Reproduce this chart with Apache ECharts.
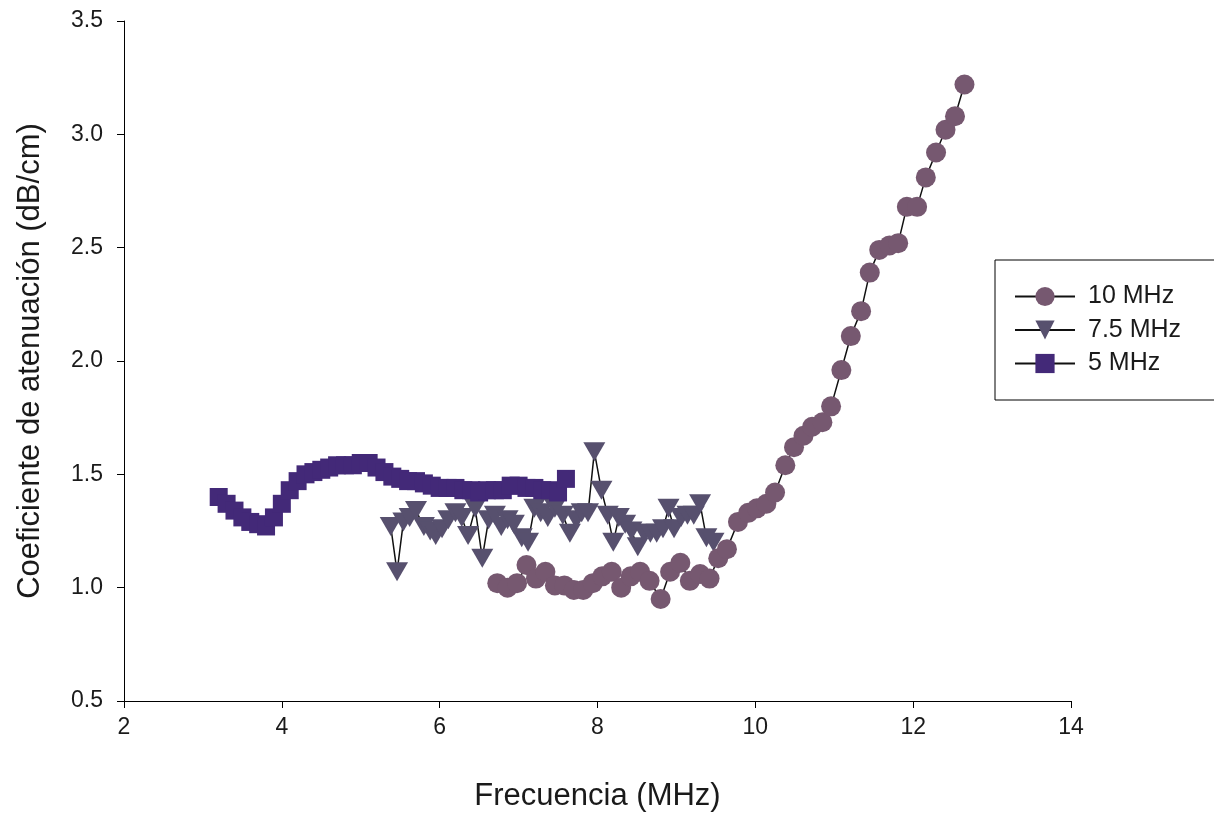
<!DOCTYPE html>
<html>
<head>
<meta charset="utf-8">
<script src="https://cdn.jsdelivr.net/npm/echarts@6/dist/echarts.min.js"></script>
<style>
  html, body { margin: 0; padding: 0; background: #fff; }
  #chart { width: 1214px; height: 813px; }
</style>
</head>
<body>
<div id="chart"></div>
<script>
// Attenuation coefficient (dB/cm) against frequency (MHz) for three transducers.
const freq10 = [6.73, 6.86, 6.98, 7.10, 7.22, 7.34, 7.46, 7.58, 7.70, 7.82, 7.94, 8.06, 8.18, 8.30, 8.42, 8.54, 8.66, 8.80, 8.92, 9.05, 9.17, 9.30, 9.42, 9.53, 9.64, 9.78, 9.91, 10.02, 10.14, 10.25, 10.38, 10.49, 10.61, 10.72, 10.85, 10.96, 11.09, 11.21, 11.34, 11.45, 11.57, 11.70, 11.81, 11.92, 12.05, 12.16, 12.29, 12.41, 12.53, 12.65];
const atten10 = [1.02, 1.00, 1.02, 1.10, 1.04, 1.07, 1.01, 1.01, 0.99, 0.99, 1.02, 1.05, 1.07, 1.00, 1.05, 1.07, 1.03, 0.95, 1.07, 1.11, 1.03, 1.06, 1.04, 1.13, 1.17, 1.29, 1.33, 1.35, 1.37, 1.42, 1.54, 1.62, 1.67, 1.71, 1.73, 1.80, 1.96, 2.11, 2.22, 2.39, 2.49, 2.51, 2.52, 2.68, 2.68, 2.81, 2.92, 3.02, 3.08, 3.22];

const freq75 = [5.38, 5.46, 5.54, 5.62, 5.70, 5.80, 5.88, 5.95, 6.03, 6.11, 6.20, 6.28, 6.36, 6.45, 6.54, 6.62, 6.70, 6.78, 6.86, 6.94, 7.04, 7.12, 7.20, 7.28, 7.37, 7.46, 7.56, 7.65, 7.73, 7.80, 7.88, 7.96, 8.05, 8.13, 8.20, 8.27, 8.35, 8.43, 8.51, 8.59, 8.67, 8.75, 8.83, 8.90, 8.97, 9.06, 9.14, 9.22, 9.30, 9.38, 9.47];
const atten75 = [1.27, 1.07, 1.29, 1.31, 1.34, 1.27, 1.25, 1.23, 1.26, 1.30, 1.33, 1.31, 1.23, 1.35, 1.13, 1.30, 1.32, 1.27, 1.30, 1.28, 1.22, 1.20, 1.35, 1.33, 1.31, 1.35, 1.32, 1.24, 1.30, 1.33, 1.33, 1.60, 1.43, 1.32, 1.20, 1.31, 1.28, 1.25, 1.18, 1.24, 1.24, 1.24, 1.26, 1.35, 1.26, 1.31, 1.32, 1.32, 1.37, 1.22, 1.20];

const freq5 = [3.2, 3.3, 3.4, 3.5, 3.6, 3.7, 3.8, 3.9, 4.0, 4.1, 4.2, 4.3, 4.4, 4.5, 4.6, 4.7, 4.8, 4.9, 5.0, 5.1, 5.2, 5.3, 5.4, 5.5, 5.6, 5.7, 5.8, 5.9, 6.0, 6.1, 6.2, 6.3, 6.4, 6.5, 6.6, 6.7, 6.8, 6.9, 7.0, 7.1, 7.2, 7.3, 7.4, 7.5, 7.6];
const atten5 = [1.40, 1.37, 1.34, 1.31, 1.29, 1.28, 1.27, 1.31, 1.37, 1.43, 1.47, 1.50, 1.51, 1.52, 1.53, 1.54, 1.54, 1.54, 1.55, 1.55, 1.53, 1.51, 1.49, 1.48, 1.47, 1.47, 1.46, 1.45, 1.44, 1.44, 1.44, 1.43, 1.43, 1.42, 1.43, 1.43, 1.43, 1.45, 1.45, 1.44, 1.44, 1.43, 1.43, 1.42, 1.48];

const seriesNames = ['10 MHz', '7.5 MHz', '5 MHz'];
const xTitle = 'Frecuencia (MHz)';
const yTitle = 'Coeficiente de atenuación (dB/cm)';

const pair = (xs, ys) => xs.map((x, i) => [x, ys[i]]);
const FONT = '"Liberation Sans", Arial, sans-serif';

const chart = echarts.init(document.getElementById('chart'), null, { renderer: 'canvas' });

const axisCommon = {
  axisLine: { show: true, lineStyle: { color: '#000', width: 1 } },
  axisTick: { show: true, inside: false, length: 7, lineStyle: { color: '#000', width: 1 } },
  splitLine: { show: false },
  axisLabel: { color: '#1a1a1a', fontFamily: FONT, fontSize: 23 },
  nameTextStyle: { color: '#1a1a1a', fontFamily: FONT, fontSize: 31 }
};

chart.setOption({
  animation: false,
  backgroundColor: '#fff',
  grid: { left: 124, top: 21, right: 143, bottom: 112, containLabel: false, outerBoundsMode: 'none' },
  xAxis: Object.assign({}, axisCommon, {
    type: 'value', min: 2, max: 14, interval: 2,
    name: xTitle, nameLocation: 'middle', nameGap: 80,
    axisLabel: Object.assign({}, axisCommon.axisLabel, { margin: 15 })
  }),
  yAxis: Object.assign({}, axisCommon, {
    type: 'value', min: 0.5, max: 3.5, interval: 0.5,
    name: yTitle, nameLocation: 'middle', nameGap: 78, nameRotate: 90,
    axisLabel: Object.assign({}, axisCommon.axisLabel, {
      margin: 21,
      formatter: v => v.toFixed(1)
    })
  }),
  legend: {
    orient: 'vertical',
    left: 995, top: 260,
    data: seriesNames,
    itemWidth: 60, itemHeight: 24, itemGap: 8.5,
    padding: [24, 70, 24, 19],
    borderColor: '#000', borderWidth: 1,
    textStyle: { color: '#1a1a1a', fontFamily: FONT, fontSize: 25, padding: [0, 0, 0, 8] }
  },
  series: [
    {
      name: '7.5 MHz', type: 'line', z: 2,
      data: pair(freq75, atten75),
      symbol: 'triangle', symbolRotate: 180, symbolSize: [22, 19],
      itemStyle: { color: '#57506e' },
      lineStyle: { color: '#111', width: 1.5 }
    },
    {
      name: '5 MHz', type: 'line', z: 3,
      data: pair(freq5, atten5),
      symbol: 'rect', symbolSize: 18,
      itemStyle: { color: '#432978' },
      lineStyle: { color: '#111', width: 1.5 }
    },
    {
      name: '10 MHz', type: 'line', z: 4,
      data: pair(freq10, atten10),
      symbol: 'circle', symbolSize: 20,
      itemStyle: { color: '#765870' },
      lineStyle: { color: '#111', width: 1.5 }
    }
  ]
});
</script>
</body>
</html>
